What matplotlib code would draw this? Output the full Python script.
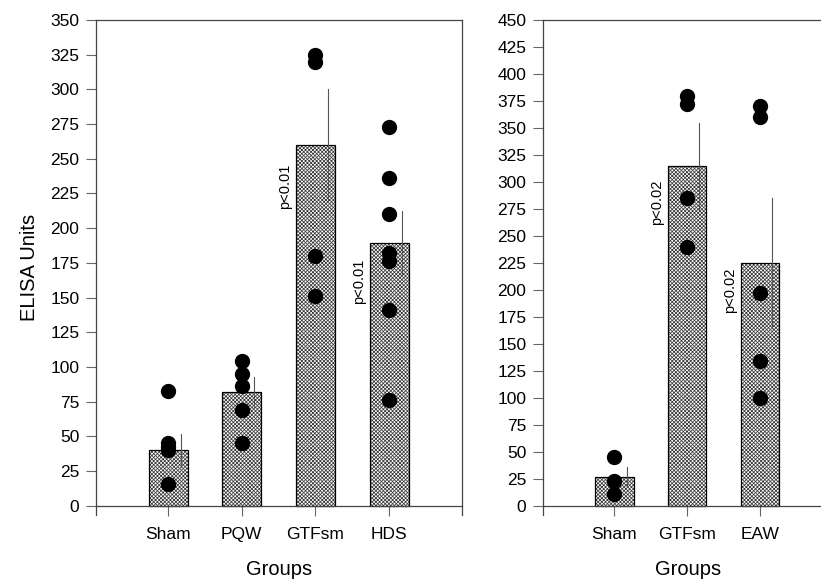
"""
ELISA units by group: two bar panels with individual points.
"""

import matplotlib.pyplot as plt

plt.rcParams["font.family"] = ["Liberation Sans", "DejaVu Sans"]
plt.rcParams["hatch.linewidth"] = 0.55

# ── Data ──────────────────────────────────────────────────────────────────
left_groups = ["Sham", "PQW", "GTFsm", "HDS"]
left_means = [40, 82, 260, 189]
left_err = [12, 11, 40, 23]
left_points = [
    [83, 45, 42, 40, 16],
    [104, 95, 86, 69, 45],
    [325, 320, 180, 151],
    [273, 236, 210, 182, 176, 141, 76],
]
left_pvals = [None, None, "p<0.01", "p<0.01"]
left_pval_y = [None, None, 230, 162]

right_groups = ["Sham", "GTFsm", "EAW"]
right_means = [27, 315, 225]
right_err = [9, 40, 60]
right_points = [
    [45, 23, 11],
    [380, 372, 285, 240],
    [370, 360, 197, 134, 100],
]
right_pvals = [None, "p<0.02", "p<0.02"]
right_pval_y = [None, 281, 200]

left_yticks = list(range(0, 351, 25))
right_yticks = list(range(0, 451, 25))


def draw_panel(ax, groups, means, errs, points, pvals, pval_y, yticks, ylim, xlim):
    xs = list(range(1, len(groups) + 1))
    width = 0.53
    # hatch layer in dark grey, then a plain black outline on top
    ax.bar(xs, means, width=width, color="white", edgecolor="#3a3a3a",
           hatch="x" * 9, linewidth=0, zorder=2)
    ax.bar(xs, means, width=width, fill=False, edgecolor="black",
           linewidth=0.9, zorder=2)
    # error lines, drawn slightly right of the bar centre
    for x, m, e in zip(xs, means, errs):
        ax.plot([x + 0.17, x + 0.17], [m - e, m + e], color="#555555",
                lw=0.8, zorder=3)
    for x, pts in zip(xs, points):
        ax.plot([x] * len(pts), pts, "o", color="black", markersize=10,
                zorder=4)
    for x, p, py in zip(xs, pvals, pval_y):
        if p:
            ax.text(x - width / 2 - 0.05, py, p, rotation=90, ha="right",
                    va="center", fontsize=10.5)

    ax.set_xlim(*xlim)
    ax.set_ylim(*ylim)
    ax.set_xticks(xs)
    ax.set_xticklabels(groups, fontsize=12.5)
    ax.set_yticks(yticks)
    ax.tick_params(axis="y", direction="out", length=7, width=0.8,
                   labelsize=12.5, color="#666666", pad=5)
    ax.tick_params(axis="x", direction="out", length=7, width=0.8,
                   labelsize=12.5, color="#666666", pad=8)
    ax.spines["bottom"].set_position(("data", 0))
    for s in ax.spines.values():
        s.set_color("#444444")
        s.set_linewidth(0.9)
    ax.set_xlabel("Groups", fontsize=14.5)
    ax.xaxis.set_label_coords(0.5, -0.09)


fig = plt.figure(figsize=(8.21, 5.79), dpi=100)

ax1 = fig.add_axes([0.1169, 0.1098, 0.4458, 0.8557])
draw_panel(ax1, left_groups, left_means, left_err, left_points,
           left_pvals, left_pval_y, left_yticks, (-7, 350), (0.02, 4.99))
ax1.set_ylabel("ELISA Units", fontsize=14.5, labelpad=8)

ax2 = fig.add_axes([0.6614, 0.1098, 0.3527, 0.8557])
draw_panel(ax2, right_groups, right_means, right_err, right_points,
           right_pvals, right_pval_y, right_yticks, (-9, 450), (0.02, 4.0))
ax2.spines["right"].set_visible(False)

fig.savefig("out.png", dpi=100)
